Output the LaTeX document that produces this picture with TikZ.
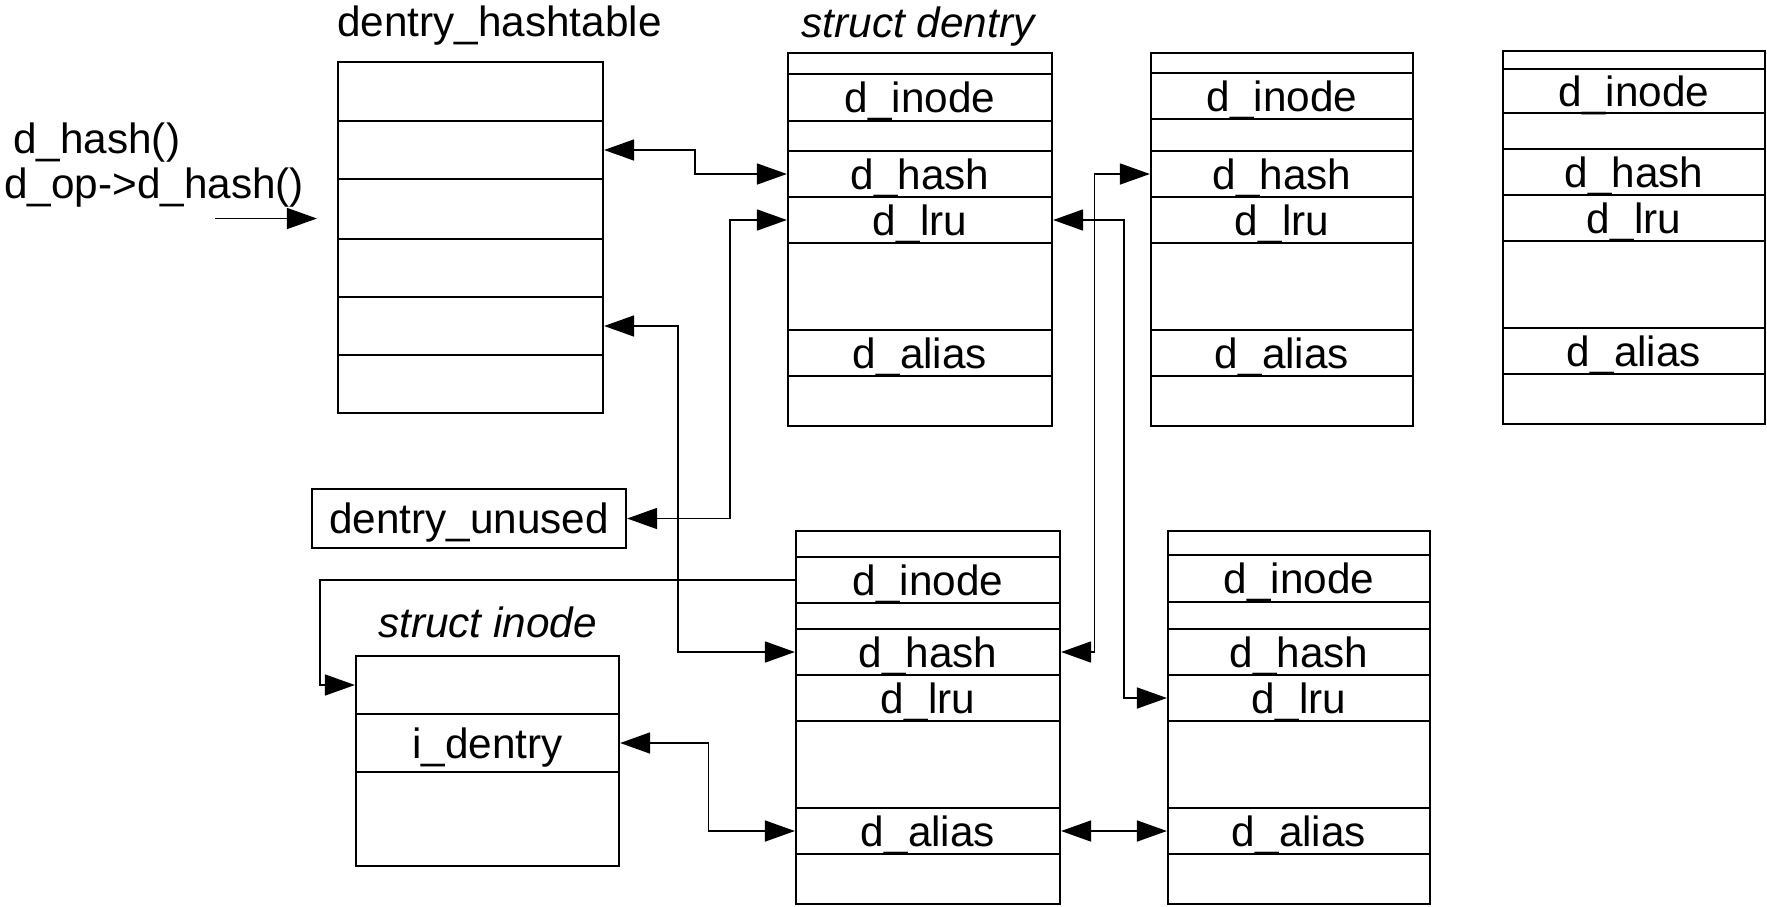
\documentclass[tikz,border=0pt]{standalone}
\usepackage{fontspec}
\setmainfont{Liberation Sans}
\usetikzlibrary{arrows.meta}

\tikzset{
  lbl/.style={font=\fontsize{42.3}{50}\selectfont, inner sep=0pt},
  cell/.style={draw, line width=2.2pt, inner sep=0pt, text height=30pt, text depth=0pt,
               font=\fontsize{42.3}{50}\selectfont},
  blank/.style={text height=0pt, text depth=0pt},
  link/.style={line width=1.6pt},
  tip/.tip={Triangle[length=30pt,width=21pt]},
  dbl/.style={link, tip-tip},
  sgl/.style={link, -tip},
}

% one field of a structure: name, left, right, top, bottom, text
\newcommand\cellnode[6]{%
  \if\relax\detokenize{#6}\relax
    \node[cell, blank, minimum width={#3-#2}, minimum height={#5-#4}]
      (#1) at ({(#2+#3)/2},{(#4+#5)/2}) {};%
  \else
    \node[cell, minimum width={#3-#2}, minimum height={#5-#4}]
      (#1) at ({(#2+#3)/2},{(#4+#5)/2}) {#6};%
  \fi}

% a struct dentry: name, left, right, top, first two row lines
\newcommand\dentrybox[6]{%
  \pgfmathsetmacro\ya{#4+98}%
  \pgfmathsetmacro\yb{#4+144}%
  \pgfmathsetmacro\yc{#4+190}%
  \pgfmathsetmacro\yd{#4+277}%
  \pgfmathsetmacro\ye{#4+323}%
  \pgfmathsetmacro\yf{#4+373}%
  \cellnode{#1-top}{#2}{#3}{#4}{#5}{}
  \cellnode{#1-inode}{#2}{#3}{#5}{#6}{d\_inode}
  \cellnode{#1-gap}{#2}{#3}{#6}{\ya}{}
  \cellnode{#1-hash}{#2}{#3}{\ya}{\yb}{d\_hash}
  \cellnode{#1-lru}{#2}{#3}{\yb}{\yc}{d\_lru}
  \cellnode{#1-mid}{#2}{#3}{\yc}{\yd}{}
  \cellnode{#1-alias}{#2}{#3}{\yd}{\ye}{d\_alias}
  \cellnode{#1-end}{#2}{#3}{\ye}{\yf}{}
}

\begin{document}
\begin{tikzpicture}[x=1pt,y=-1pt]
\useasboundingbox (0,0) rectangle (1767,906);

% titles and labels
\node[lbl, anchor=base west] (ht-title) at (337,36.5) {dentry\_hashtable};
\node[lbl, anchor=base, font=\fontsize{42.3}{50}\selectfont\itshape] (dentry-title) at (918,37.5) {struct dentry};
\node[lbl, anchor=base, font=\fontsize{42.3}{50}\selectfont\itshape] (inode-title) at (487.5,637) {struct inode};
\node[lbl, anchor=base west] (fn1) at (13,153.3) {d\_hash()};
\node[lbl, anchor=base west] (fn2) at (4,198.3) {d\_op->d\_hash()};

% hash table
\cellnode{ht1}{338}{603}{62}{121}{}
\cellnode{ht2}{338}{603}{121}{179}{}
\cellnode{ht3}{338}{603}{179}{239}{}
\cellnode{ht4}{338}{603}{239}{297}{}
\cellnode{ht5}{338}{603}{297}{355}{}
\cellnode{ht6}{338}{603}{355}{413}{}

% LRU list head
\cellnode{unused}{312}{626}{489}{548}{dentry\_unused}

% struct inode
\cellnode{in1}{356}{619}{656}{714}{}
\cellnode{in2}{356}{619}{714}{772}{i\_dentry}
\cellnode{in3}{356}{619}{772}{866}{}

% dentries
\dentrybox{A}{788}{1052}{53}{74}{121}
\dentrybox{B}{1151}{1413}{53}{73}{119}
\dentrybox{C}{1503}{1765}{51}{69}{113}
\dentrybox{D}{796}{1060}{531}{557}{603}
\dentrybox{E}{1168}{1430}{531}{555}{602}

% hash function entry
\coordinate (hin) at (215,218.5);
\draw[sgl, shorten >=20pt] (hin) -- (hin -| ht3.west);

% hash chains
\draw[dbl] (ht2.east) -| (695,162) |- (A-hash.west);
\draw[dbl] (ht5.east) -| (678,500) |- (D-hash.west);
\draw[dbl] (B-hash.west) -| (1094.5,400) |- (D-hash.east);

% unused list
\draw[dbl] (A-lru.west) -| (730,400) |- (unused.east);
\draw[dbl] (A-lru.east) -| (1124,400) |- (E-lru.west);

% inode links
\draw[sgl] (D-inode.west) -| (320,630) |- (in1.west);
\draw[dbl] (in2.east) -| (708.5,780) |- (D-alias.west);
\draw[dbl] (D-alias.east) -- (E-alias.west);
\end{tikzpicture}
\end{document}
